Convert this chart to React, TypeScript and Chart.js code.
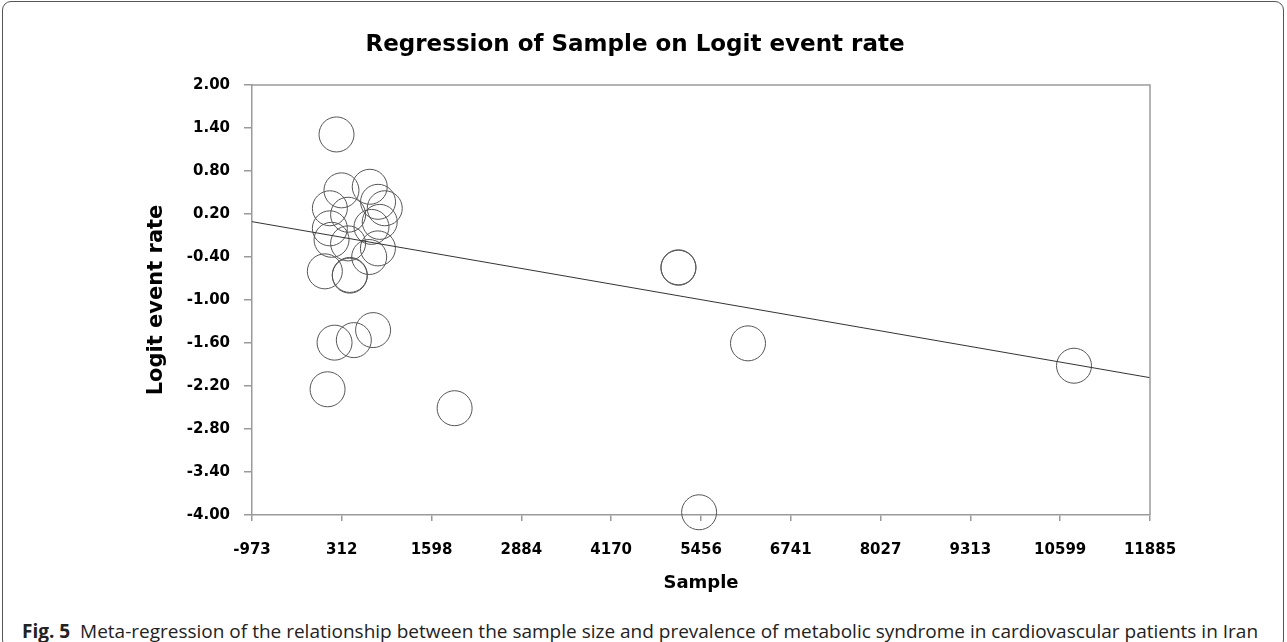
import React, { useEffect, useRef } from "react";
import { Chart, registerables } from "chart.js";

Chart.register(...registerables);

// Study points: sample size (x) vs logit event rate (y)
const sampleSizes = [
  237, 308, 713, 832, 928, 142, 403, 856, 142, 738, 166, 403, 830, 705, 70, 427, 427,
  209, 485, 761, 109, 1928, 5133, 5133, 6129, 5429, 10797,
];
const logitRates = [
  1.31, 0.53, 0.58, 0.37, 0.28, 0.28, 0.19, 0.09, 0.0, 0.02, -0.16, -0.21, -0.28, -0.4,
  -0.6, -0.65, -0.66, -1.595, -1.56, -1.42, -2.246, -2.51, -0.544, -0.55, -1.605, -3.962,
  -1.917,
];

// Regression line end points
const regressionX = [-973, 11885];
const regressionY = [0.093, -2.084];

// Tick labels
const xTickValues = [-973, 312, 1598, 2884, 4170, 5456, 6741, 8027, 9313, 10599, 11885];
const yTickValues = [-4.0, -3.4, -2.8, -2.2, -1.6, -1.0, -0.4, 0.2, 0.8, 1.4, 2.0];

const titleText = "Regression of Sample on Logit event rate";
const xTitle = "Sample";
const yTitle = "Logit event rate";

const AXIS_COLOR = "#9a9a9a";

const framePlugin = {
  id: "frame",
  afterDraw(chart: any) {
    const { ctx, chartArea } = chart;
    ctx.save();
    ctx.strokeStyle = AXIS_COLOR;
    ctx.lineWidth = 1.5;
    ctx.beginPath();
    ctx.moveTo(chartArea.left, chartArea.top);
    ctx.lineTo(chartArea.right, chartArea.top);
    ctx.lineTo(chartArea.right, chartArea.bottom);
    ctx.stroke();
    ctx.restore();
  },
};

export default function App() {
  const canvasRef = useRef<HTMLCanvasElement | null>(null);

  useEffect(() => {
    document.body.style.margin = "0";
    const canvas = canvasRef.current;
    if (!canvas) return;
    const points = sampleSizes.map((x, i) => ({ x, y: logitRates[i] }));
    const line = regressionX.map((x, i) => ({ x, y: regressionY[i] }));
    const tickFont = { family: "'DejaVu Sans', sans-serif", weight: "bold" as const, size: 15 };

    const chart = new Chart(canvas, {
      type: "scatter",
      data: {
        datasets: [
          {
            type: "line",
            data: line,
            borderColor: "#333333",
            borderWidth: 1,
            pointRadius: 0,
            fill: false,
            clip: false as any,
          },
          {
            type: "scatter",
            data: points,
            pointRadius: 17.5,
            pointHoverRadius: 17.5,
            pointBorderWidth: 1,
            pointBorderColor: "#555555",
            pointBackgroundColor: "rgba(0,0,0,0)",
            clip: false as any,
          },
        ],
      },
      options: {
        responsive: false,
        animation: false,
        devicePixelRatio: 1,
        layout: { padding: { left: 0, right: 17, top: 0, bottom: 0 } },
        plugins: {
          legend: { display: false },
          tooltip: { enabled: false },
          title: {
            display: true,
            text: titleText,
            color: "#000",
            font: { family: "'DejaVu Sans', sans-serif", weight: "bold", size: 23 },
            padding: { top: 31, bottom: 26.4 },
          },
        },
        scales: {
          x: {
            type: "linear",
            min: -973,
            max: 11885,
            afterBuildTicks: (scale: any) => {
              scale.ticks = xTickValues.map((v) => ({ value: v }));
            },
            afterFit: (scale: any) => {
              scale.height = 85;
            },
            ticks: {
              autoSkip: false,
              maxRotation: 0,
              color: "#000",
              font: tickFont,
              padding: 20,
              callback: (v: any) => String(v),
            },
            grid: {
              drawOnChartArea: false,
              drawTicks: true,
              tickLength: 6,
              color: AXIS_COLOR,
              lineWidth: 1.5,
            },
            border: { color: AXIS_COLOR, width: 1.5 },
            title: {
              display: true,
              text: xTitle,
              color: "#000",
              font: { family: "'DejaVu Sans', sans-serif", weight: "bold", size: 18 },
              padding: { top: 0, bottom: 6 },
            },
          },
          y: {
            type: "linear",
            min: -4,
            max: 2,
            afterBuildTicks: (scale: any) => {
              scale.ticks = yTickValues.map((v) => ({ value: v }));
            },
            afterFit: (scale: any) => {
              scale.width = 252;
            },
            ticks: {
              color: "#000",
              font: tickFont,
              padding: 14,
              callback: (v: any) => Number(v).toFixed(2),
            },
            grid: {
              drawOnChartArea: false,
              drawTicks: true,
              tickLength: 8,
              color: AXIS_COLOR,
              lineWidth: 1.5,
            },
            border: { color: AXIS_COLOR, width: 1.5 },
            title: {
              display: true,
              text: yTitle,
              color: "#000",
              font: { family: "'DejaVu Sans', sans-serif", weight: "bold", size: 21 },
              padding: { top: 144, bottom: 0 },
            },
          },
          yRight: {
            type: "linear",
            position: "right",
            min: -4,
            max: 2,
            afterFit: (scale: any) => {
              scale.width = 120;
            },
            ticks: { display: false },
            grid: { display: false, drawTicks: false },
            border: { display: false },
          },
        },
      },
      plugins: [framePlugin],
    });
    return () => chart.destroy();
  }, []);

  return (
    <div
      style={{
        position: "fixed",
        left: 0,
        top: 0,
        width: 1287,
        height: 642,
        overflow: "hidden",
        background: "#fff",
      }}
    >
      <div
        style={{
          position: "absolute",
          left: 2,
          top: 1,
          width: 1282,
          height: 648,
          boxSizing: "border-box",
          border: "1px solid #555",
          borderRadius: 9,
        }}
      />
      <canvas
        ref={canvasRef}
        width={1287}
        height={600}
        style={{ position: "absolute", left: 0, top: 0, width: 1287, height: 600 }}
      />
      <div
        style={{
          position: "absolute",
          left: 22,
          top: 620,
          whiteSpace: "nowrap",
          fontFamily: "'Liberation Sans Narrow', 'Open Sans', sans-serif",
          fontSize: 19,
          lineHeight: "22px",
          color: "#222",
        }}
      >
        <b>Fig. 5</b>&nbsp; Meta-regression of the relationship between the sample size and prevalence of
        metabolic syndrome in cardiovascular patients in Iran
      </div>
    </div>
  );
}
